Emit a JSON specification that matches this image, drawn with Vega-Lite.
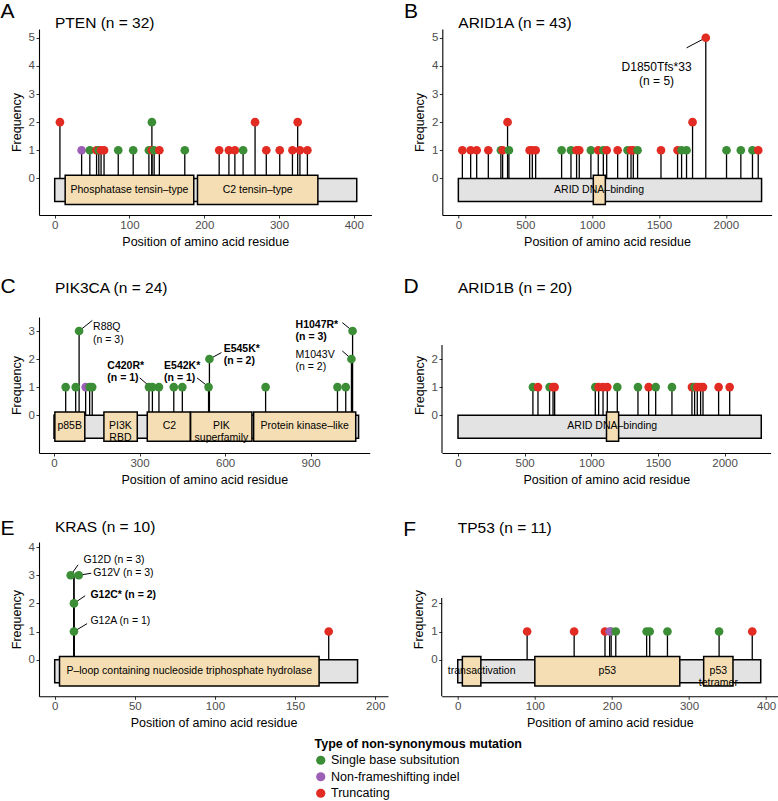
{
 "$schema": "https://vega.github.io/schema/vega-lite/v6.json",
 "padding": {"left": 0, "top": 1, "right": 0, "bottom": 0},
 "config": {
  "font": "Liberation Sans",
  "view": {"stroke": null},
  "title": {"fontWeight": "normal", "color": "black", "font": "Liberation Sans"},
  "axis": {"grid": false, "domainColor": "black", "domainWidth": 1.1, "tickColor": "#333333", "tickSize": 3, "tickWidth": 1, "labelColor": "#4D4D4D", "labelFontSize": 11.5, "titleFontSize": 12.5, "titleFontWeight": "normal", "titleColor": "black", "labelPadding": 1.5, "labelFlush": false, "labelOverlap": false},
  "axisX": {"titlePadding": 4},
  "axisY": {"titlePadding": 5},
  "legend": {"titleFontSize": 12.5, "titleFontWeight": "bold", "titleColor": "black", "titleLimit": 500, "labelLimit": 400, "labelFontSize": 12.5, "labelColor": "black", "symbolType": "circle", "symbolSize": 85, "symbolStrokeWidth": 0, "symbolOpacity": 1, "rowPadding": 3.5, "titlePadding": 4, "labelOffset": 4}
 },
 "datasets": {
  "proteins": [
   {"gene": "PTEN", "start": 0, "length": 404},
   {"gene": "ARID1A", "start": 0, "length": 2267},
   {"gene": "PIK3CA", "start": 0, "length": 1068},
   {"gene": "ARID1B", "start": 0, "length": 2275},
   {"gene": "KRAS", "start": 0, "length": 189},
   {"gene": "TP53", "start": 0, "length": 393}
  ],
  "domains": [
   {"gene": "PTEN", "name": "Phosphatase tensin–type", "start": 14, "end": 186, "mid": 100},
   {"gene": "PTEN", "name": "C2 tensin–type", "start": 191, "end": 352, "mid": 271.5},
   {"gene": "ARID1A", "name": "ARID DNA–binding", "start": 1009, "end": 1099, "mid": 1052},
   {"gene": "PIK3CA", "name": "p85B", "start": 3, "end": 108, "mid": 55},
   {"gene": "PIK3CA", "name": "PI3K\nRBD", "start": 175, "end": 292, "mid": 233},
   {"gene": "PIK3CA", "name": "C2", "start": 327, "end": 478, "mid": 405},
   {"gene": "PIK3CA", "name": "PIK\nsuperfamily", "start": 479, "end": 694, "mid": 587},
   {"gene": "PIK3CA", "name": "Protein kinase–like", "start": 700, "end": 1058, "mid": 879},
   {"gene": "ARID1B", "name": "ARID DNA–binding", "start": 1114, "end": 1205, "mid": 1157},
   {"gene": "KRAS", "name": "P–loop containing nucleoside triphosphate hydrolase", "start": 3, "end": 165, "mid": 84},
   {"gene": "TP53", "name": "transactivation", "start": 6, "end": 30, "mid": 31},
   {"gene": "TP53", "name": "p53", "start": 100, "end": 288, "mid": 194},
   {"gene": "TP53", "name": "p53\ntetramer", "start": 319, "end": 357, "mid": 338}
  ],
  "ann": [
   {"gene": "ARID1A", "label": "D1850Tfs*33\n(n = 5)", "lx": 1482, "ly": 3.95, "x1": 1850, "y1": 5, "x2": 1706, "y2": 4.64, "hot": false},
   {"gene": "PIK3CA", "label": "R88Q\n(n = 3)", "lx": 137, "ly": 3.13, "x1": 88, "y1": 3, "x2": 134.6, "y2": 3.38, "hot": false},
   {"gene": "PIK3CA", "label": "C420R*\n(n = 1)", "lx": 187, "ly": 1.76, "x1": 300.6, "y1": 1.33, "x2": 330, "y2": 1.07, "hot": true},
   {"gene": "PIK3CA", "label": "E542K*\n(n = 1)", "lx": 386, "ly": 1.76, "x1": 501.4, "y1": 1.33, "x2": 534.3, "y2": 1.07, "hot": true},
   {"gene": "PIK3CA", "label": "E545K*\n(n = 2)", "lx": 595, "ly": 2.37, "x1": 545, "y1": 2, "x2": 586.9, "y2": 2.23, "hot": true},
   {"gene": "PIK3CA", "label": "H1047R*\n(n = 3)", "lx": 847, "ly": 3.22, "x1": 1011, "y1": 3.3, "x2": 1047, "y2": 3, "hot": true},
   {"gene": "PIK3CA", "label": "M1043V\n(n = 2)", "lx": 847, "ly": 2.15, "x1": 1011, "y1": 2.29, "x2": 1043, "y2": 2, "hot": false},
   {"gene": "KRAS", "label": "G12D (n = 3)", "lx": 18, "ly": 3.55, "x1": 10, "y1": 3, "x2": 14.6, "y2": 3.37, "hot": false},
   {"gene": "KRAS", "label": "G12V (n = 3)", "lx": 24, "ly": 3.08, "x1": 15, "y1": 3, "x2": 22.8, "y2": 3.07, "hot": false},
   {"gene": "KRAS", "label": "G12C* (n = 2)", "lx": 22.3, "ly": 2.31, "x1": 12, "y1": 2, "x2": 19, "y2": 2.27, "hot": true},
   {"gene": "KRAS", "label": "G12A (n = 1)", "lx": 22.3, "ly": 1.36, "x1": 12, "y1": 1, "x2": 20.2, "y2": 1.28, "hot": false}
  ],
  "points": [
   {"gene": "PTEN", "pos": 7, "freq": 2, "type": "Truncating"},
   {"gene": "PTEN", "pos": 36, "freq": 1, "type": "Non-frameshifting indel"},
   {"gene": "PTEN", "pos": 47, "freq": 1, "type": "Single base subsitution"},
   {"gene": "PTEN", "pos": 56, "freq": 1, "type": "Truncating"},
   {"gene": "PTEN", "pos": 59, "freq": 1, "type": "Single base subsitution"},
   {"gene": "PTEN", "pos": 62, "freq": 1, "type": "Truncating"},
   {"gene": "PTEN", "pos": 66, "freq": 1, "type": "Truncating"},
   {"gene": "PTEN", "pos": 85, "freq": 1, "type": "Single base subsitution"},
   {"gene": "PTEN", "pos": 105, "freq": 1, "type": "Single base subsitution"},
   {"gene": "PTEN", "pos": 126, "freq": 1, "type": "Single base subsitution"},
   {"gene": "PTEN", "pos": 130, "freq": 2, "type": "Single base subsitution"},
   {"gene": "PTEN", "pos": 130, "freq": 1, "type": "Truncating"},
   {"gene": "PTEN", "pos": 133, "freq": 1, "type": "Single base subsitution"},
   {"gene": "PTEN", "pos": 140, "freq": 1, "type": "Truncating"},
   {"gene": "PTEN", "pos": 174, "freq": 1, "type": "Single base subsitution"},
   {"gene": "PTEN", "pos": 220, "freq": 1, "type": "Truncating"},
   {"gene": "PTEN", "pos": 233, "freq": 1, "type": "Truncating"},
   {"gene": "PTEN", "pos": 241, "freq": 1, "type": "Truncating"},
   {"gene": "PTEN", "pos": 252, "freq": 1, "type": "Single base subsitution"},
   {"gene": "PTEN", "pos": 268, "freq": 2, "type": "Truncating"},
   {"gene": "PTEN", "pos": 283, "freq": 1, "type": "Truncating"},
   {"gene": "PTEN", "pos": 301, "freq": 1, "type": "Truncating"},
   {"gene": "PTEN", "pos": 318, "freq": 1, "type": "Truncating"},
   {"gene": "PTEN", "pos": 325, "freq": 2, "type": "Truncating"},
   {"gene": "PTEN", "pos": 328, "freq": 1, "type": "Truncating"},
   {"gene": "PTEN", "pos": 338, "freq": 1, "type": "Truncating"},
   {"gene": "ARID1A", "pos": 30, "freq": 1, "type": "Truncating"},
   {"gene": "ARID1A", "pos": 92, "freq": 1, "type": "Truncating"},
   {"gene": "ARID1A", "pos": 137, "freq": 1, "type": "Truncating"},
   {"gene": "ARID1A", "pos": 224, "freq": 1, "type": "Truncating"},
   {"gene": "ARID1A", "pos": 318, "freq": 1, "type": "Single base subsitution"},
   {"gene": "ARID1A", "pos": 331, "freq": 1, "type": "Truncating"},
   {"gene": "ARID1A", "pos": 368, "freq": 2, "type": "Truncating"},
   {"gene": "ARID1A", "pos": 378, "freq": 1, "type": "Single base subsitution"},
   {"gene": "ARID1A", "pos": 533, "freq": 1, "type": "Truncating"},
   {"gene": "ARID1A", "pos": 553, "freq": 1, "type": "Truncating"},
   {"gene": "ARID1A", "pos": 578, "freq": 1, "type": "Truncating"},
   {"gene": "ARID1A", "pos": 772, "freq": 1, "type": "Single base subsitution"},
   {"gene": "ARID1A", "pos": 842, "freq": 1, "type": "Single base subsitution"},
   {"gene": "ARID1A", "pos": 884, "freq": 1, "type": "Truncating"},
   {"gene": "ARID1A", "pos": 904, "freq": 1, "type": "Truncating"},
   {"gene": "ARID1A", "pos": 991, "freq": 1, "type": "Single base subsitution"},
   {"gene": "ARID1A", "pos": 1046, "freq": 1, "type": "Truncating"},
   {"gene": "ARID1A", "pos": 1084, "freq": 1, "type": "Single base subsitution"},
   {"gene": "ARID1A", "pos": 1109, "freq": 1, "type": "Truncating"},
   {"gene": "ARID1A", "pos": 1191, "freq": 1, "type": "Truncating"},
   {"gene": "ARID1A", "pos": 1265, "freq": 1, "type": "Single base subsitution"},
   {"gene": "ARID1A", "pos": 1291, "freq": 1, "type": "Truncating"},
   {"gene": "ARID1A", "pos": 1308, "freq": 1, "type": "Truncating"},
   {"gene": "ARID1A", "pos": 1340, "freq": 1, "type": "Single base subsitution"},
   {"gene": "ARID1A", "pos": 1515, "freq": 1, "type": "Truncating"},
   {"gene": "ARID1A", "pos": 1639, "freq": 1, "type": "Truncating"},
   {"gene": "ARID1A", "pos": 1669, "freq": 1, "type": "Single base subsitution"},
   {"gene": "ARID1A", "pos": 1706, "freq": 1, "type": "Single base subsitution"},
   {"gene": "ARID1A", "pos": 1751, "freq": 2, "type": "Truncating"},
   {"gene": "ARID1A", "pos": 1850, "freq": 5, "type": "Truncating"},
   {"gene": "ARID1A", "pos": 2005, "freq": 1, "type": "Single base subsitution"},
   {"gene": "ARID1A", "pos": 2112, "freq": 1, "type": "Single base subsitution"},
   {"gene": "ARID1A", "pos": 2199, "freq": 1, "type": "Single base subsitution"},
   {"gene": "ARID1A", "pos": 2242, "freq": 1, "type": "Truncating"},
   {"gene": "PIK3CA", "pos": 41, "freq": 1, "type": "Single base subsitution"},
   {"gene": "PIK3CA", "pos": 76, "freq": 1, "type": "Single base subsitution"},
   {"gene": "PIK3CA", "pos": 88, "freq": 3, "type": "Single base subsitution"},
   {"gene": "PIK3CA", "pos": 111, "freq": 1, "type": "Non-frameshifting indel"},
   {"gene": "PIK3CA", "pos": 125, "freq": 1, "type": "Single base subsitution"},
   {"gene": "PIK3CA", "pos": 134, "freq": 1, "type": "Single base subsitution"},
   {"gene": "PIK3CA", "pos": 333, "freq": 1, "type": "Single base subsitution"},
   {"gene": "PIK3CA", "pos": 345, "freq": 1, "type": "Single base subsitution"},
   {"gene": "PIK3CA", "pos": 368, "freq": 1, "type": "Single base subsitution"},
   {"gene": "PIK3CA", "pos": 420, "freq": 1, "type": "Single base subsitution"},
   {"gene": "PIK3CA", "pos": 450, "freq": 1, "type": "Single base subsitution"},
   {"gene": "PIK3CA", "pos": 542, "freq": 1, "type": "Single base subsitution"},
   {"gene": "PIK3CA", "pos": 545, "freq": 2, "type": "Single base subsitution"},
   {"gene": "PIK3CA", "pos": 742, "freq": 1, "type": "Single base subsitution"},
   {"gene": "PIK3CA", "pos": 994, "freq": 1, "type": "Single base subsitution"},
   {"gene": "PIK3CA", "pos": 1023, "freq": 1, "type": "Single base subsitution"},
   {"gene": "PIK3CA", "pos": 1043, "freq": 2, "type": "Single base subsitution"},
   {"gene": "PIK3CA", "pos": 1047, "freq": 3, "type": "Single base subsitution"},
   {"gene": "ARID1B", "pos": 562, "freq": 1, "type": "Single base subsitution"},
   {"gene": "ARID1B", "pos": 600, "freq": 1, "type": "Truncating"},
   {"gene": "ARID1B", "pos": 687, "freq": 1, "type": "Single base subsitution"},
   {"gene": "ARID1B", "pos": 713, "freq": 1, "type": "Truncating"},
   {"gene": "ARID1B", "pos": 725, "freq": 1, "type": "Truncating"},
   {"gene": "ARID1B", "pos": 1030, "freq": 1, "type": "Single base subsitution"},
   {"gene": "ARID1B", "pos": 1055, "freq": 1, "type": "Truncating"},
   {"gene": "ARID1B", "pos": 1088, "freq": 1, "type": "Truncating"},
   {"gene": "ARID1B", "pos": 1120, "freq": 1, "type": "Truncating"},
   {"gene": "ARID1B", "pos": 1195, "freq": 1, "type": "Single base subsitution"},
   {"gene": "ARID1B", "pos": 1350, "freq": 1, "type": "Single base subsitution"},
   {"gene": "ARID1B", "pos": 1430, "freq": 1, "type": "Truncating"},
   {"gene": "ARID1B", "pos": 1483, "freq": 1, "type": "Single base subsitution"},
   {"gene": "ARID1B", "pos": 1605, "freq": 1, "type": "Single base subsitution"},
   {"gene": "ARID1B", "pos": 1755, "freq": 1, "type": "Truncating"},
   {"gene": "ARID1B", "pos": 1775, "freq": 1, "type": "Single base subsitution"},
   {"gene": "ARID1B", "pos": 1795, "freq": 1, "type": "Truncating"},
   {"gene": "ARID1B", "pos": 1820, "freq": 1, "type": "Truncating"},
   {"gene": "ARID1B", "pos": 1838, "freq": 1, "type": "Truncating"},
   {"gene": "ARID1B", "pos": 1955, "freq": 1, "type": "Truncating"},
   {"gene": "ARID1B", "pos": 2038, "freq": 1, "type": "Truncating"},
   {"gene": "KRAS", "pos": 12, "site": 12, "freq": 1, "type": "Single base subsitution"},
   {"gene": "KRAS", "pos": 12, "site": 12, "freq": 2, "type": "Single base subsitution"},
   {"gene": "KRAS", "pos": 10, "site": 12, "freq": 3, "type": "Single base subsitution"},
   {"gene": "KRAS", "pos": 15, "site": 12, "freq": 3, "type": "Single base subsitution"},
   {"gene": "KRAS", "pos": 171, "site": 171, "freq": 1, "type": "Truncating"},
   {"gene": "TP53", "pos": 90, "freq": 1, "type": "Truncating"},
   {"gene": "TP53", "pos": 151, "freq": 1, "type": "Truncating"},
   {"gene": "TP53", "pos": 191, "freq": 1, "type": "Truncating"},
   {"gene": "TP53", "pos": 199, "freq": 1, "type": "Single base subsitution"},
   {"gene": "TP53", "pos": 197, "freq": 1, "type": "Non-frameshifting indel"},
   {"gene": "TP53", "pos": 205, "freq": 1, "type": "Single base subsitution"},
   {"gene": "TP53", "pos": 245, "freq": 1, "type": "Single base subsitution"},
   {"gene": "TP53", "pos": 249, "freq": 1, "type": "Single base subsitution"},
   {"gene": "TP53", "pos": 272, "freq": 1, "type": "Single base subsitution"},
   {"gene": "TP53", "pos": 339, "freq": 1, "type": "Single base subsitution"},
   {"gene": "TP53", "pos": 382, "freq": 1, "type": "Truncating"}
  ]
 },
 "spacing": 28,
 "vconcat": [
  {"spacing": 31.3, "hconcat": [
   {"title": {"text": "A", "fontSize": 21, "anchor": "start", "frame": "bounds", "dx": -9.5, "offset": -5.8}, "vconcat": [
    {"width": 332.4, "height": 186,
     "title": {"text": "PTEN (n = 32)", "fontSize": 15.5, "anchor": "start", "frame": "group", "dx": 16, "offset": -2.8},
     "layer": [
      {"data": {"name": "points"}, "transform": [{"filter": "datum.gene === 'PTEN'"}, {"calculate": "0", "as": "base"}], "mark": {"type": "rule", "color": "black", "strokeWidth": 1.3},
       "encoding": {"x": {"field": "pos", "type": "quantitative", "scale": {"domain": [-21, 423.6], "nice": false, "zero": false}, "axis": {"title": "Position of amino acid residue", "values": [0, 100, 200, 300, 400], "tickCount": 12, "format": "d"}},
                    "y": {"field": "freq", "type": "quantitative", "scale": {"domain": [-1.3, 5.31], "nice": false, "zero": false}, "axis": {"title": "Frequency", "values": [0, 1, 2, 3, 4, 5], "tickCount": 12, "format": "d"}},
                    "y2": {"field": "base"}}},
      {"data": {"name": "proteins"}, "transform": [{"filter": "datum.gene === 'PTEN'"}, {"calculate": "0", "as": "top"}, {"calculate": "-0.82", "as": "bottom"}], "mark": {"type": "rect", "fill": "#E3E3E3", "stroke": "black", "strokeWidth": 1.5},
       "encoding": {"x": {"field": "start", "type": "quantitative"}, "x2": {"field": "length"}, "y": {"field": "top", "type": "quantitative"}, "y2": {"field": "bottom"}}},
      {"data": {"name": "domains"}, "transform": [{"filter": "datum.gene === 'PTEN'"}, {"calculate": "0.11", "as": "top"}, {"calculate": "-0.93", "as": "bottom"}], "mark": {"type": "rect", "fill": "#F5DEB3", "stroke": "black", "strokeWidth": 1.5},
       "encoding": {"x": {"field": "start", "type": "quantitative"}, "x2": {"field": "end"}, "y": {"field": "top", "type": "quantitative"}, "y2": {"field": "bottom"}}},
      {"data": {"name": "domains"}, "transform": [{"filter": "datum.gene === 'PTEN'"}, {"calculate": "-0.4", "as": "ty"}], "mark": {"type": "text", "fontSize": 10.5, "color": "black", "baseline": "middle", "lineBreak": "\n", "lineHeight": 12},
       "encoding": {"x": {"field": "mid", "type": "quantitative"}, "y": {"field": "ty", "type": "quantitative"}, "text": {"field": "name", "type": "nominal"}}},
      {"data": {"name": "points"}, "transform": [{"filter": "datum.gene === 'PTEN'"}], "mark": {"type": "circle", "size": 75, "opacity": 1},
       "encoding": {"x": {"field": "pos", "type": "quantitative"}, "y": {"field": "freq", "type": "quantitative"},
                    "color": {"field": "type", "type": "nominal", "scale": {"domain": ["Single base subsitution", "Non-frameshifting indel", "Truncating"], "range": ["#3B8E35", "#9C5FB5", "#E22B22"]}, "legend": {"title": "Type of non-synonymous mutation", "orient": "none", "legendX": 275.5, "legendY": 708.5, "direction": "vertical"}}}}
     ]}
   ]},
   {"title": {"text": "B", "fontSize": 21, "anchor": "start", "frame": "bounds", "dx": -9.5, "offset": -5.8}, "vconcat": [
    {"width": 329.3, "height": 186,
     "title": {"text": "ARID1A (n = 43)", "fontSize": 15.5, "anchor": "start", "frame": "group", "dx": 16, "offset": -2.8},
     "layer": [
      {"data": {"name": "points"}, "transform": [{"filter": "datum.gene === 'ARID1A'"}, {"calculate": "0", "as": "base"}], "mark": {"type": "rule", "color": "black", "strokeWidth": 1.3},
       "encoding": {"x": {"field": "pos", "type": "quantitative", "scale": {"domain": [-120, 2342], "nice": false, "zero": false}, "axis": {"title": "Position of amino acid residue", "values": [0, 500, 1000, 1500, 2000], "tickCount": 12, "format": "d"}},
                    "y": {"field": "freq", "type": "quantitative", "scale": {"domain": [-1.3, 5.31], "nice": false, "zero": false}, "axis": {"title": "Frequency", "values": [0, 1, 2, 3, 4, 5], "tickCount": 12, "format": "d"}},
                    "y2": {"field": "base"}}},
      {"data": {"name": "proteins"}, "transform": [{"filter": "datum.gene === 'ARID1A'"}, {"calculate": "0", "as": "top"}, {"calculate": "-0.82", "as": "bottom"}], "mark": {"type": "rect", "fill": "#E3E3E3", "stroke": "black", "strokeWidth": 1.5},
       "encoding": {"x": {"field": "start", "type": "quantitative"}, "x2": {"field": "length"}, "y": {"field": "top", "type": "quantitative"}, "y2": {"field": "bottom"}}},
      {"data": {"name": "domains"}, "transform": [{"filter": "datum.gene === 'ARID1A'"}, {"calculate": "0.11", "as": "top"}, {"calculate": "-0.93", "as": "bottom"}], "mark": {"type": "rect", "fill": "#F5DEB3", "stroke": "black", "strokeWidth": 1.5},
       "encoding": {"x": {"field": "start", "type": "quantitative"}, "x2": {"field": "end"}, "y": {"field": "top", "type": "quantitative"}, "y2": {"field": "bottom"}}},
      {"data": {"name": "domains"}, "transform": [{"filter": "datum.gene === 'ARID1A'"}, {"calculate": "-0.4", "as": "ty"}], "mark": {"type": "text", "fontSize": 10.5, "color": "black", "baseline": "middle", "lineBreak": "\n", "lineHeight": 12},
       "encoding": {"x": {"field": "mid", "type": "quantitative"}, "y": {"field": "ty", "type": "quantitative"}, "text": {"field": "name", "type": "nominal"}}},
      {"data": {"name": "ann"}, "transform": [{"filter": "datum.gene === 'ARID1A'"}], "mark": {"type": "rule", "color": "black", "strokeWidth": 1},
       "encoding": {"x": {"field": "x1", "type": "quantitative"}, "y": {"field": "y1", "type": "quantitative"}, "x2": {"field": "x2"}, "y2": {"field": "y2"}}},
      {"data": {"name": "ann"}, "transform": [{"filter": "datum.gene === 'ARID1A'"}], "mark": {"type": "text", "fontSize": 12, "color": "black", "align": "center", "baseline": "middle", "lineBreak": "\n", "lineHeight": 14},
       "encoding": {"x": {"field": "lx", "type": "quantitative"}, "y": {"field": "ly", "type": "quantitative"}, "text": {"field": "label", "type": "nominal"}}},
      {"data": {"name": "points"}, "transform": [{"filter": "datum.gene === 'ARID1A'"}], "mark": {"type": "circle", "size": 75, "opacity": 1},
       "encoding": {"x": {"field": "pos", "type": "quantitative"}, "y": {"field": "freq", "type": "quantitative"},
                    "color": {"field": "type", "type": "nominal", "scale": {"domain": ["Single base subsitution", "Non-frameshifting indel", "Truncating"], "range": ["#3B8E35", "#9C5FB5", "#E22B22"]}, "legend": {"title": "Type of non-synonymous mutation", "orient": "none", "legendX": 275.5, "legendY": 708.5, "direction": "vertical"}}}}
     ]}
   ]}
  ]},
  {"spacing": 31, "vconcat": [
   {"spacing": 33, "hconcat": [
    {"title": {"text": "C", "fontSize": 21, "anchor": "start", "frame": "bounds", "dx": -9.5, "offset": -16.6}, "vconcat": [
     {"width": 330.7, "height": 136,
      "title": {"text": "PIK3CA (n = 24)", "fontSize": 15.5, "anchor": "start", "frame": "group", "dx": 16, "offset": 20.7},
      "layer": [
       {"data": {"name": "points"}, "transform": [{"filter": "datum.gene === 'PIK3CA'"}, {"calculate": "0", "as": "base"}], "mark": {"type": "rule", "color": "black", "strokeWidth": 1.3},
        "encoding": {"x": {"field": "pos", "type": "quantitative", "scale": {"domain": [-52.6, 1107], "nice": false, "zero": false}, "axis": {"title": "Position of amino acid residue", "values": [0, 300, 600, 900], "tickCount": 12, "format": "d"}},
                     "y": {"field": "freq", "type": "quantitative", "scale": {"domain": [-1.35, 3.5], "nice": false, "zero": false}, "axis": {"title": "Frequency", "values": [0, 1, 2, 3], "tickCount": 12, "format": "d"}},
                     "y2": {"field": "base"}}},
       {"data": {"name": "proteins"}, "transform": [{"filter": "datum.gene === 'PIK3CA'"}, {"calculate": "0", "as": "top"}, {"calculate": "-0.82", "as": "bottom"}], "mark": {"type": "rect", "fill": "#E3E3E3", "stroke": "black", "strokeWidth": 1.5},
        "encoding": {"x": {"field": "start", "type": "quantitative"}, "x2": {"field": "length"}, "y": {"field": "top", "type": "quantitative"}, "y2": {"field": "bottom"}}},
       {"data": {"name": "domains"}, "transform": [{"filter": "datum.gene === 'PIK3CA'"}, {"calculate": "0.11", "as": "top"}, {"calculate": "-0.93", "as": "bottom"}], "mark": {"type": "rect", "fill": "#F5DEB3", "stroke": "black", "strokeWidth": 1.5},
        "encoding": {"x": {"field": "start", "type": "quantitative"}, "x2": {"field": "end"}, "y": {"field": "top", "type": "quantitative"}, "y2": {"field": "bottom"}}},
       {"data": {"name": "domains"}, "transform": [{"filter": "datum.gene === 'PIK3CA'"}, {"calculate": "-0.4", "as": "ty"}], "mark": {"type": "text", "fontSize": 10.5, "color": "black", "baseline": "middle", "lineBreak": "\n", "lineHeight": 12},
        "encoding": {"x": {"field": "mid", "type": "quantitative"}, "y": {"field": "ty", "type": "quantitative"}, "text": {"field": "name", "type": "nominal"}}},
       {"data": {"name": "ann"}, "transform": [{"filter": "datum.gene === 'PIK3CA'"}], "mark": {"type": "rule", "color": "black", "strokeWidth": 1},
        "encoding": {"x": {"field": "x1", "type": "quantitative"}, "y": {"field": "y1", "type": "quantitative"}, "x2": {"field": "x2"}, "y2": {"field": "y2"}}},
       {"data": {"name": "ann"}, "transform": [{"filter": "datum.gene === 'PIK3CA' && !datum.hot"}], "mark": {"type": "text", "fontSize": 10.5, "color": "black", "align": "left", "baseline": "middle", "lineBreak": "\n", "lineHeight": 12.5},
        "encoding": {"x": {"field": "lx", "type": "quantitative"}, "y": {"field": "ly", "type": "quantitative"}, "text": {"field": "label", "type": "nominal"}}},
       {"data": {"name": "ann"}, "transform": [{"filter": "datum.gene === 'PIK3CA' && datum.hot"}], "mark": {"type": "text", "fontSize": 10.5, "fontWeight": "bold", "color": "black", "align": "left", "baseline": "middle", "lineBreak": "\n", "lineHeight": 12.5},
        "encoding": {"x": {"field": "lx", "type": "quantitative"}, "y": {"field": "ly", "type": "quantitative"}, "text": {"field": "label", "type": "nominal"}}},
       {"data": {"name": "points"}, "transform": [{"filter": "datum.gene === 'PIK3CA'"}], "mark": {"type": "circle", "size": 75, "opacity": 1},
        "encoding": {"x": {"field": "pos", "type": "quantitative"}, "y": {"field": "freq", "type": "quantitative"},
                     "color": {"field": "type", "type": "nominal", "scale": {"domain": ["Single base subsitution", "Non-frameshifting indel", "Truncating"], "range": ["#3B8E35", "#9C5FB5", "#E22B22"]}, "legend": {"title": "Type of non-synonymous mutation", "orient": "none", "legendX": 275.5, "legendY": 708.5, "direction": "vertical"}}}}
      ]}
    ]},
    {"title": {"text": "D", "fontSize": 21, "anchor": "start", "frame": "bounds", "dx": -9.5, "offset": -16.6}, "vconcat": [
     {"width": 328.6, "height": 136,
      "title": {"text": "ARID1B (n = 20)", "fontSize": 15.5, "anchor": "start", "frame": "group", "dx": 16, "offset": 20.7},
      "layer": [
       {"data": {"name": "points"}, "transform": [{"filter": "datum.gene === 'ARID1B'"}, {"calculate": "0", "as": "base"}], "mark": {"type": "rule", "color": "black", "strokeWidth": 1.3},
        "encoding": {"x": {"field": "pos", "type": "quantitative", "scale": {"domain": [-120, 2345], "nice": false, "zero": false}, "axis": {"title": "Position of amino acid residue", "values": [0, 500, 1000, 1500, 2000], "tickCount": 12, "format": "d"}},
                     "y": {"field": "freq", "type": "quantitative", "scale": {"domain": [-1.35, 3.5], "nice": false, "zero": false}, "axis": {"title": "Frequency", "values": [0, 1, 2], "tickCount": 12, "format": "d", "domain": false}},
                     "y2": {"field": "base"}}},
       {"data": {"name": "proteins"}, "transform": [{"filter": "datum.gene === 'ARID1B'"}, {"calculate": "-120", "as": "ax"}, {"calculate": "-1.35", "as": "lo"}, {"calculate": "2.5", "as": "hi"}], "mark": {"type": "rule", "color": "black", "strokeWidth": 1.1},
        "encoding": {"x": {"field": "ax", "type": "quantitative"}, "y": {"field": "lo", "type": "quantitative"}, "y2": {"field": "hi"}}},
       {"data": {"name": "proteins"}, "transform": [{"filter": "datum.gene === 'ARID1B'"}, {"calculate": "0", "as": "top"}, {"calculate": "-0.82", "as": "bottom"}], "mark": {"type": "rect", "fill": "#E3E3E3", "stroke": "black", "strokeWidth": 1.5},
        "encoding": {"x": {"field": "start", "type": "quantitative"}, "x2": {"field": "length"}, "y": {"field": "top", "type": "quantitative"}, "y2": {"field": "bottom"}}},
       {"data": {"name": "domains"}, "transform": [{"filter": "datum.gene === 'ARID1B'"}, {"calculate": "0.11", "as": "top"}, {"calculate": "-0.93", "as": "bottom"}], "mark": {"type": "rect", "fill": "#F5DEB3", "stroke": "black", "strokeWidth": 1.5},
        "encoding": {"x": {"field": "start", "type": "quantitative"}, "x2": {"field": "end"}, "y": {"field": "top", "type": "quantitative"}, "y2": {"field": "bottom"}}},
       {"data": {"name": "domains"}, "transform": [{"filter": "datum.gene === 'ARID1B'"}, {"calculate": "-0.4", "as": "ty"}], "mark": {"type": "text", "fontSize": 10.5, "color": "black", "baseline": "middle", "lineBreak": "\n", "lineHeight": 12},
        "encoding": {"x": {"field": "mid", "type": "quantitative"}, "y": {"field": "ty", "type": "quantitative"}, "text": {"field": "name", "type": "nominal"}}},
       {"data": {"name": "points"}, "transform": [{"filter": "datum.gene === 'ARID1B'"}], "mark": {"type": "circle", "size": 75, "opacity": 1},
        "encoding": {"x": {"field": "pos", "type": "quantitative"}, "y": {"field": "freq", "type": "quantitative"},
                     "color": {"field": "type", "type": "nominal", "scale": {"domain": ["Single base subsitution", "Non-frameshifting indel", "Truncating"], "range": ["#3B8E35", "#9C5FB5", "#E22B22"]}, "legend": {"title": "Type of non-synonymous mutation", "orient": "none", "legendX": 275.5, "legendY": 708.5, "direction": "vertical"}}}}
      ]}
    ]}
   ]},
   {"spacing": 14.7, "hconcat": [
    {"title": {"text": "E", "fontSize": 21, "anchor": "start", "frame": "bounds", "dx": -9.5, "offset": -19.1}, "vconcat": [
     {"width": 349, "height": 154.3,
      "title": {"text": "KRAS (n = 10)", "fontSize": 15.5, "anchor": "start", "frame": "group", "dx": 16, "offset": 5.9},
      "layer": [
       {"data": {"name": "points"}, "transform": [{"filter": "datum.gene === 'KRAS'"}, {"calculate": "0", "as": "base"}], "mark": {"type": "rule", "color": "black", "strokeWidth": 1.3},
        "encoding": {"x": {"field": "site", "type": "quantitative", "scale": {"domain": [-9.8, 208], "nice": false, "zero": false}, "axis": {"title": "Position of amino acid residue", "values": [0, 50, 100, 150, 200], "tickCount": 12, "format": "d"}},
                     "y": {"field": "freq", "type": "quantitative", "scale": {"domain": [-1.3, 4.18], "nice": false, "zero": false}, "axis": {"title": "Frequency", "values": [0, 1, 2, 3, 4], "tickCount": 12, "format": "d"}},
                     "y2": {"field": "base"}}},
       {"data": {"name": "proteins"}, "transform": [{"filter": "datum.gene === 'KRAS'"}, {"calculate": "0", "as": "top"}, {"calculate": "-0.82", "as": "bottom"}], "mark": {"type": "rect", "fill": "#E3E3E3", "stroke": "black", "strokeWidth": 1.5},
        "encoding": {"x": {"field": "start", "type": "quantitative"}, "x2": {"field": "length"}, "y": {"field": "top", "type": "quantitative"}, "y2": {"field": "bottom"}}},
       {"data": {"name": "domains"}, "transform": [{"filter": "datum.gene === 'KRAS'"}, {"calculate": "0.11", "as": "top"}, {"calculate": "-0.93", "as": "bottom"}], "mark": {"type": "rect", "fill": "#F5DEB3", "stroke": "black", "strokeWidth": 1.5},
        "encoding": {"x": {"field": "start", "type": "quantitative"}, "x2": {"field": "end"}, "y": {"field": "top", "type": "quantitative"}, "y2": {"field": "bottom"}}},
       {"data": {"name": "domains"}, "transform": [{"filter": "datum.gene === 'KRAS'"}, {"calculate": "-0.4", "as": "ty"}], "mark": {"type": "text", "fontSize": 10.5, "color": "black", "baseline": "middle", "lineBreak": "\n", "lineHeight": 12},
        "encoding": {"x": {"field": "mid", "type": "quantitative"}, "y": {"field": "ty", "type": "quantitative"}, "text": {"field": "name", "type": "nominal"}}},
       {"data": {"name": "ann"}, "transform": [{"filter": "datum.gene === 'KRAS'"}], "mark": {"type": "rule", "color": "black", "strokeWidth": 1},
        "encoding": {"x": {"field": "x1", "type": "quantitative"}, "y": {"field": "y1", "type": "quantitative"}, "x2": {"field": "x2"}, "y2": {"field": "y2"}}},
       {"data": {"name": "ann"}, "transform": [{"filter": "datum.gene === 'KRAS' && !datum.hot"}], "mark": {"type": "text", "fontSize": 10.5, "color": "black", "align": "left", "baseline": "middle"},
        "encoding": {"x": {"field": "lx", "type": "quantitative"}, "y": {"field": "ly", "type": "quantitative"}, "text": {"field": "label", "type": "nominal"}}},
       {"data": {"name": "ann"}, "transform": [{"filter": "datum.gene === 'KRAS' && datum.hot"}], "mark": {"type": "text", "fontSize": 10.5, "fontWeight": "bold", "color": "black", "align": "left", "baseline": "middle"},
        "encoding": {"x": {"field": "lx", "type": "quantitative"}, "y": {"field": "ly", "type": "quantitative"}, "text": {"field": "label", "type": "nominal"}}},
       {"data": {"name": "points"}, "transform": [{"filter": "datum.gene === 'KRAS'"}], "mark": {"type": "circle", "size": 75, "opacity": 1},
        "encoding": {"x": {"field": "pos", "type": "quantitative"}, "y": {"field": "freq", "type": "quantitative"},
                     "color": {"field": "type", "type": "nominal", "scale": {"domain": ["Single base subsitution", "Non-frameshifting indel", "Truncating"], "range": ["#3B8E35", "#9C5FB5", "#E22B22"]}, "legend": {"title": "Type of non-synonymous mutation", "orient": "none", "legendX": 275.5, "legendY": 708.5, "direction": "vertical"}}}}
      ]}
    ]},
    {"title": {"text": "F", "fontSize": 21, "anchor": "start", "frame": "bounds", "dx": -9.5, "offset": -19.1}, "vconcat": [
     {"width": 336.3, "height": 154.3,
      "title": {"text": "TP53 (n = 11)", "fontSize": 15.5, "anchor": "start", "frame": "group", "dx": 16, "offset": 5.9},
      "layer": [
       {"data": {"name": "points"}, "transform": [{"filter": "datum.gene === 'TP53'"}, {"calculate": "0", "as": "base"}], "mark": {"type": "rule", "color": "black", "strokeWidth": 1.3},
        "encoding": {"x": {"field": "pos", "type": "quantitative", "scale": {"domain": [-20.8, 415.4], "nice": false, "zero": false}, "axis": {"title": "Position of amino acid residue", "values": [0, 100, 200, 300, 400], "tickCount": 12, "format": "d"}},
                     "y": {"field": "freq", "type": "quantitative", "scale": {"domain": [-1.3, 4.18], "nice": false, "zero": false}, "axis": {"title": "Frequency", "values": [0, 1, 2], "tickCount": 12, "format": "d", "domain": false}},
                     "y2": {"field": "base"}}},
       {"data": {"name": "proteins"}, "transform": [{"filter": "datum.gene === 'TP53'"}, {"calculate": "-20.8", "as": "ax"}, {"calculate": "-1.3", "as": "lo"}, {"calculate": "2.19", "as": "hi"}], "mark": {"type": "rule", "color": "black", "strokeWidth": 1.1},
        "encoding": {"x": {"field": "ax", "type": "quantitative"}, "y": {"field": "lo", "type": "quantitative"}, "y2": {"field": "hi"}}},
       {"data": {"name": "proteins"}, "transform": [{"filter": "datum.gene === 'TP53'"}, {"calculate": "0", "as": "top"}, {"calculate": "-0.82", "as": "bottom"}], "mark": {"type": "rect", "fill": "#E3E3E3", "stroke": "black", "strokeWidth": 1.5},
        "encoding": {"x": {"field": "start", "type": "quantitative"}, "x2": {"field": "length"}, "y": {"field": "top", "type": "quantitative"}, "y2": {"field": "bottom"}}},
       {"data": {"name": "domains"}, "transform": [{"filter": "datum.gene === 'TP53'"}, {"calculate": "0.11", "as": "top"}, {"calculate": "-0.93", "as": "bottom"}], "mark": {"type": "rect", "fill": "#F5DEB3", "stroke": "black", "strokeWidth": 1.5},
        "encoding": {"x": {"field": "start", "type": "quantitative"}, "x2": {"field": "end"}, "y": {"field": "top", "type": "quantitative"}, "y2": {"field": "bottom"}}},
       {"data": {"name": "domains"}, "transform": [{"filter": "datum.gene === 'TP53'"}, {"calculate": "-0.4", "as": "ty"}], "mark": {"type": "text", "fontSize": 10.5, "color": "black", "baseline": "middle", "lineBreak": "\n", "lineHeight": 12},
        "encoding": {"x": {"field": "mid", "type": "quantitative"}, "y": {"field": "ty", "type": "quantitative"}, "text": {"field": "name", "type": "nominal"}}},
       {"data": {"name": "points"}, "transform": [{"filter": "datum.gene === 'TP53'"}], "mark": {"type": "circle", "size": 75, "opacity": 1},
        "encoding": {"x": {"field": "pos", "type": "quantitative"}, "y": {"field": "freq", "type": "quantitative"},
                     "color": {"field": "type", "type": "nominal", "scale": {"domain": ["Single base subsitution", "Non-frameshifting indel", "Truncating"], "range": ["#3B8E35", "#9C5FB5", "#E22B22"]}, "legend": {"title": "Type of non-synonymous mutation", "orient": "none", "legendX": 275.5, "legendY": 708.5, "direction": "vertical"}}}}
      ]}
    ]}
   ]}
  ]}
 ]
}
